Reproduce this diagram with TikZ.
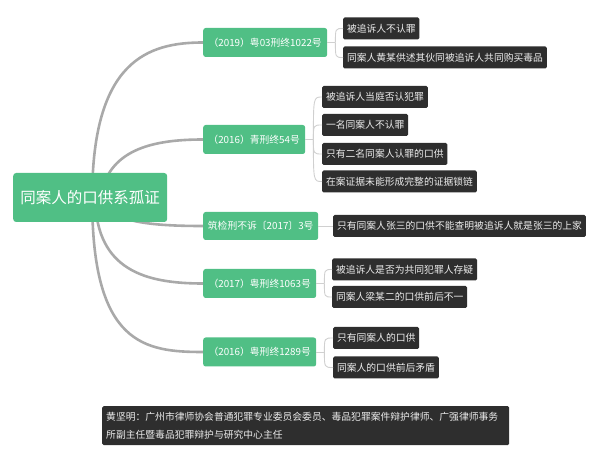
\documentclass[tikz,border=0pt]{standalone}
\usepackage{fontspec}
\setmainfont{Noto Sans CJK SC}
\usetikzlibrary{calc,backgrounds}
\definecolor{mmgreen}{HTML}{50BF85}
\definecolor{mmdark}{HTML}{2E2E2E}
\definecolor{mmline}{HTML}{A9A9A9}
\definecolor{mmthin}{HTML}{D0D0D0}
\definecolor{mmtext}{HTML}{EDEDED}
\begin{document}
\begin{tikzpicture}[x=1pt,y=-1pt,
  rootbox/.style={fill=mmgreen, text=white, rounded corners=3pt, minimum width=154pt, minimum height=49pt, inner sep=2pt, font=\fontsize{15.5}{18}\selectfont, anchor=west},
  casebox/.style={fill=mmgreen, text=white, rounded corners=2.5pt, minimum height=29pt, inner sep=2pt, font=\fontsize{9.8}{12}\selectfont, anchor=west},
  pointbox/.style={fill=mmdark, text=mmtext, rounded corners=1.5pt, minimum height=22pt, inner xsep=3.8pt, inner ysep=1pt, font=\fontsize{9.8}{12}\selectfont, anchor=west},
  notebox/.style={fill=mmdark, text=mmtext, rounded corners=1.5pt, text width=399pt, align=left, minimum height=39pt, inner xsep=4pt, inner ysep=4pt, font=\fontsize{9.8}{18}\selectfont, anchor=north west},
  mainlink/.style={draw=mmline, line width=2.6pt},
  sublink/.style={draw=mmthin, line width=0.9pt}]
\useasboundingbox (0,0) rectangle (600,462);

\node[rootbox] (root) at (13,197.5) {同案人的口供系孤证};

\node[casebox, minimum width=124pt] (b1) at (203,42.5) {（2019）粤03刑终1022号};
\node[casebox, minimum width=102pt] (b2) at (203,139.5) {（2016）青刑终54号};
\node[casebox, minimum width=115pt, minimum height=28pt] (b3) at (203,226) {筑检刑不诉〔2017〕3号};
\node[casebox, minimum width=113pt] (b4) at (203,283.5) {（2017）粤刑终1063号};
\node[casebox, minimum width=113pt] (b5) at (203,352) {（2016）粤刑终1289号};

\node[pointbox] (c11) at (343,28.5) {被追诉人不认罪};
\node[pointbox] (c12) at (343,57.5) {同案人黄某供述其伙同被追诉人共同购买毒品};

\node[pointbox] (c21) at (322,97) {被追诉人当庭否认犯罪};
\node[pointbox] (c22) at (322,125) {一名同案人不认罪};
\node[pointbox] (c23) at (322,154) {只有二名同案人认罪的口供};
\node[pointbox] (c24) at (322,181.5) {在案证据未能形成完整的证据锁链};

\node[pointbox] (c31) at (333,226) {只有同案人张三的口供不能查明被追诉人就是张三的上家};

\node[pointbox] (c41) at (332,269.5) {被追诉人是否为共同犯罪人存疑};
\node[pointbox] (c42) at (332,297) {同案人梁某二的口供前后不一};

\node[pointbox] (c51) at (333,338) {只有同案人的口供};
\node[pointbox] (c52) at (333,367.5) {同案人的口供前后矛盾};

\node[notebox] (note) at (102,406) {黄坚明：广州市律师协会普通犯罪专业委员会委员、毒品犯罪案件辩护律师、广强律师事务\\所副主任暨毒品犯罪辩护与研究中心主任};

\begin{scope}[on background layer]
\draw[mainlink] ($(root.center)+(2,0)$) .. controls ($(root.center)+(2,-137)$) and ($(b1.west)+(-55,0)$) .. (b1.west);
\draw[mainlink] ($(root.center)+(10,0)$) .. controls ($(root.center)+(18,-47)$) and ($(b2.west)+(-53,0)$) .. (b2.west);
\draw[mainlink] ($(root.center)+(10,2.5)$) .. controls ($(root.center)+(20,24.5)$) and ($(b3.west)+(-53,0)$) .. (b3.west);
\draw[mainlink] ($(root.center)+(5,2.5)$) .. controls ($(root.center)+(7,72.5)$) and ($(b4.west)+(-58,0)$) .. (b4.west);
\draw[mainlink] ($(root.center)+(2,2.5)$) .. controls ($(root.center)+(2,147.5)$) and ($(b5.west)+(-58,0)$) .. (b5.west);
\end{scope}

\draw[sublink] (b1.east) -- ++(8,0) coordinate (j1);
\draw[sublink] (j1) .. controls (j1 |- c11.west) .. (c11.west);
\draw[sublink] (j1) .. controls (j1 |- c12.west) .. (c12.west);

\draw[sublink] (b2.east) -- ++(8,0) coordinate (j2);
\draw[sublink] (j2) .. controls (j2 |- c21.west) .. (c21.west);
\draw[sublink] (j2) .. controls (j2 |- c22.west) .. (c22.west);
\draw[sublink] (j2) .. controls (j2 |- c23.west) .. (c23.west);
\draw[sublink] (j2) .. controls (j2 |- c24.west) .. (c24.west);

\draw[sublink] (b3.east) -- (c31.west);

\draw[sublink] (b4.east) -- ++(8,0) coordinate (j4);
\draw[sublink] (j4) .. controls (j4 |- c41.west) .. (c41.west);
\draw[sublink] (j4) .. controls (j4 |- c42.west) .. (c42.west);

\draw[sublink] (b5.east) -- ++(8,0) coordinate (j5);
\draw[sublink] (j5) .. controls (j5 |- c51.west) .. (c51.west);
\draw[sublink] (j5) .. controls (j5 |- c52.west) .. (c52.west);
\end{tikzpicture}
\end{document}
